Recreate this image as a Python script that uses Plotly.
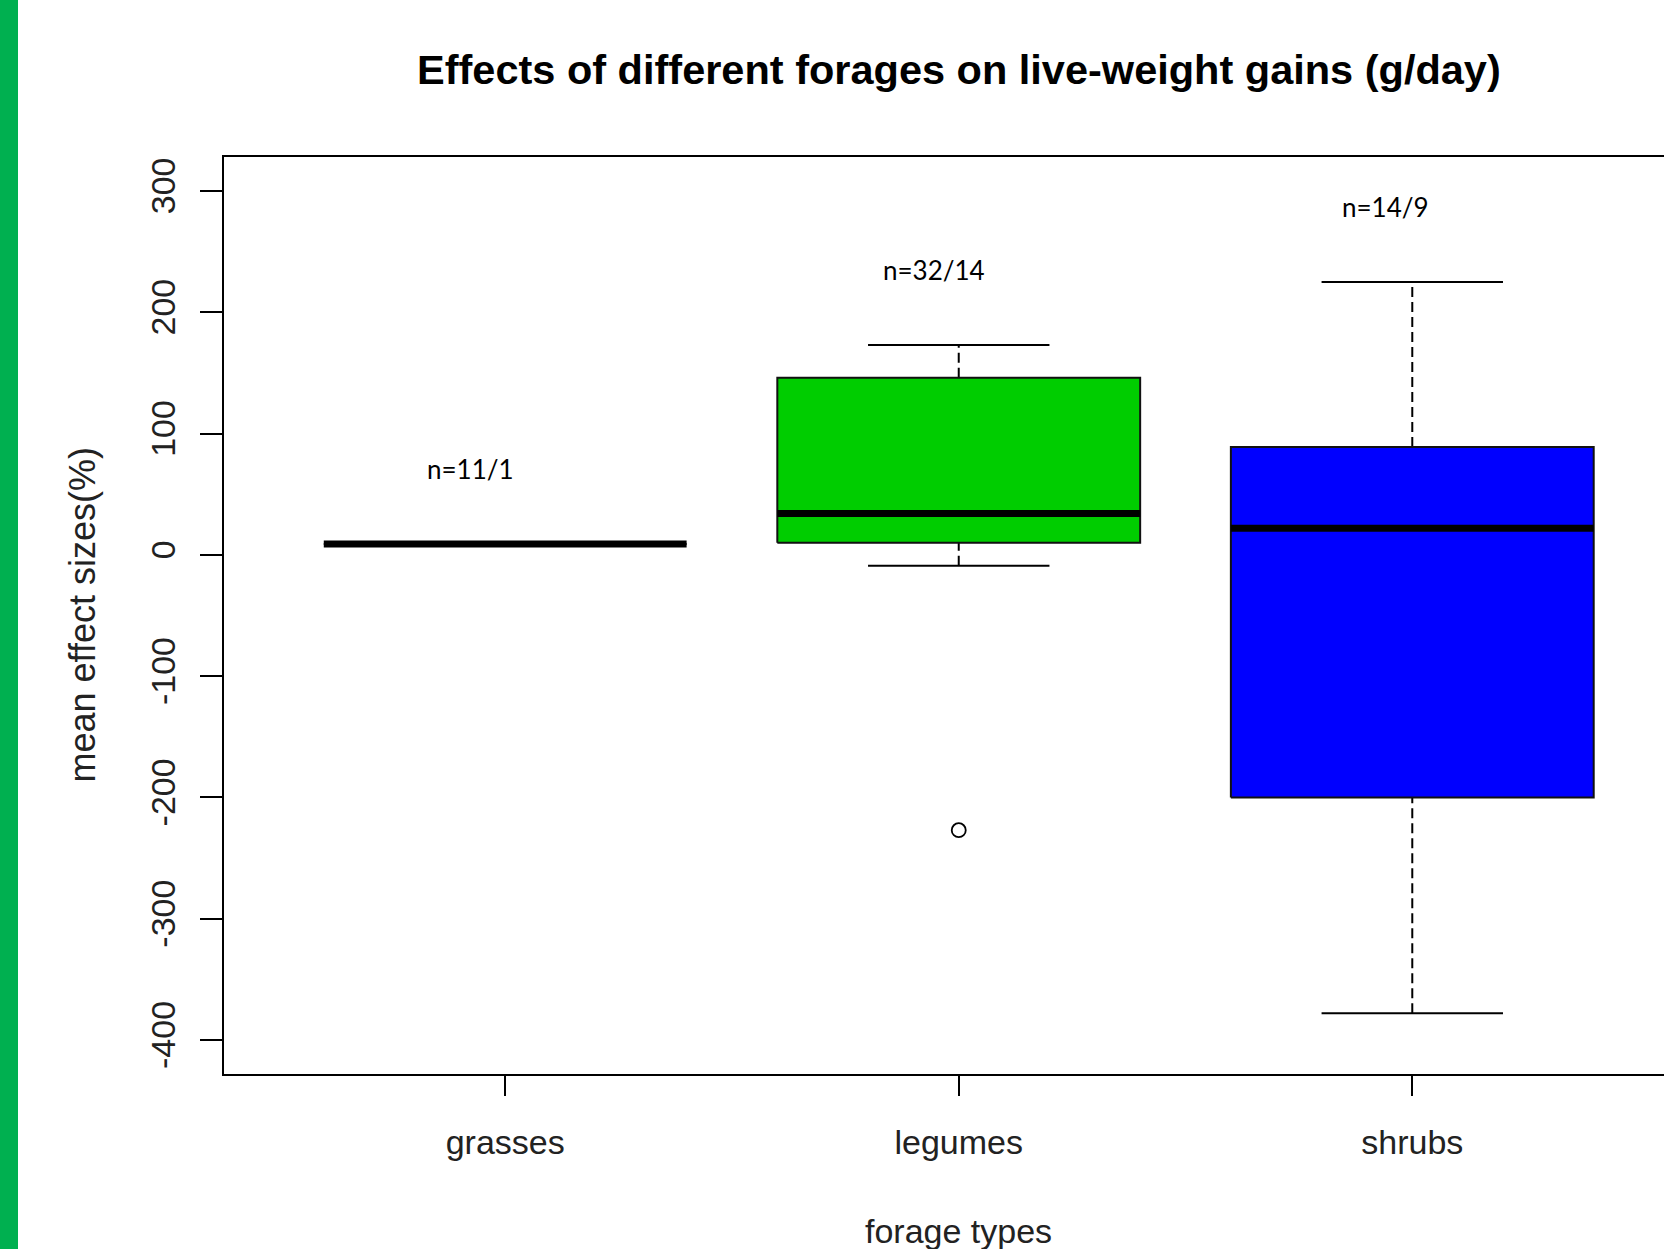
import plotly.graph_objects as go

# ---- data ----
categories = ["grasses", "legumes", "shrubs"]
lower_whisker = [9, -9, -378]
q1_values = [9, 10, -200]
median_values = [9, 34, 22]
q3_values = [9, 146, 89]
upper_whisker = [9, 173, 225]
outlier_category = ["legumes"]
outlier_values = [-227]
n_labels = ["n=11/1", "n=32/14", "n=14/9"]
y_tick_values = [-400, -300, -200, -100, 0, 100, 200, 300]
y_tick_labels = ["-400", "-300", "-200", "-100", "0", "100", "200", "300"]

# ---- styles ----
fill_colors = ["rgba(0,0,0,0)", "#00CD00", "#0000FF"]
box_half = 0.4
staple_half = 0.2
n_label_offsets = [(-0.077, 71), (-0.054, 235), (-0.06, 287)]

fig = go.Figure()
for i, cat in enumerate(categories):
    c = i + 1
    # whiskers (dashed)
    for a, b in ((q3_values[i], upper_whisker[i]), (lower_whisker[i], q1_values[i])):
        fig.add_trace(go.Scatter(x=[c, c], y=[a, b], mode="lines",
                                 line=dict(color="black", width=2, dash="10px,5px"),
                                 hoverinfo="skip", showlegend=False))
    # staples
    for v in (upper_whisker[i], lower_whisker[i]):
        fig.add_trace(go.Scatter(x=[c - staple_half, c + staple_half], y=[v, v], mode="lines",
                                 line=dict(color="black", width=2),
                                 hoverinfo="skip", showlegend=False))
    # box
    fig.add_trace(go.Scatter(
        x=[c - box_half, c + box_half, c + box_half, c - box_half, c - box_half],
        y=[q1_values[i], q1_values[i], q3_values[i], q3_values[i], q1_values[i]],
        mode="lines", fill="toself", fillcolor=fill_colors[i],
        line=dict(color="#111111", width=2), hoverinfo="skip", showlegend=False))
    # median
    fig.add_trace(go.Scatter(x=[c - box_half, c + box_half],
                             y=[median_values[i], median_values[i]], mode="lines",
                             line=dict(color="black", width=7),
                             hoverinfo="skip", showlegend=False))

# outliers
fig.add_trace(go.Scatter(
    x=[categories.index(oc) + 1 for oc in outlier_category], y=outlier_values,
    mode="markers",
    marker=dict(symbol="circle-open", size=14, color="black", line=dict(width=1.8)),
    hoverinfo="skip", showlegend=False))

annotations = []
for i, lab in enumerate(n_labels):
    dx, yy = n_label_offsets[i]
    annotations.append(dict(x=i + 1 + dx, y=yy, xref="x", yref="y", text=lab,
                            showarrow=False, font=dict(family="Lato", size=26, color="black")))

axis_font = dict(family="Liberation Sans, Arial", size=34, color="#222222")
annotations += [
    dict(x=2, y=1.0949, xref="x", yref="paper", text="<b>Effects of different forages on live-weight gains (g/day)</b>",
         showarrow=False, font=dict(family="Liberation Sans, Arial", size=41.5, color="black"),
         xanchor="center", yanchor="middle"),
    dict(x=2, y=-0.171, xref="x", yref="paper", text="forage types", showarrow=False,
         font=axis_font, xanchor="center", yanchor="middle"),
    dict(x=-0.0986, y=0.5, xref="paper", yref="paper", text="mean effect sizes(%)", showarrow=False,
         font=dict(family="Liberation Sans, Arial", size=36, color="#222222"),
         textangle=-90, xanchor="center", yanchor="middle"),
]

fig.update_layout(
    width=1664, height=1249, autosize=False,
    margin=dict(l=224, r=0, t=157, b=175),
    paper_bgcolor="white", plot_bgcolor="white",
    showlegend=False,
    annotations=annotations,
    shapes=[dict(type="rect", xref="paper", yref="paper",
                 x0=-224 / 1440, x1=(18 - 224) / 1440, y0=-0.2, y1=1.2,
                 fillcolor="#00B050", line=dict(width=0), layer="above")],
    xaxis=dict(range=[0.38, 3.555], tickvals=[1, 2, 3], ticktext=categories,
               showline=True, linecolor="black", linewidth=2, mirror=True,
               ticks="outside", ticklen=20, tickwidth=1.5, tickcolor="black",
               showgrid=False, zeroline=False, tickfont=axis_font, ticklabelstandoff=17),
    yaxis=dict(range=[-428, 328], tickvals=y_tick_values, ticktext=y_tick_labels, tickangle=-90,
               showline=True, linecolor="black", linewidth=2,
               ticks="outside", ticklen=22, tickwidth=1.5, tickcolor="black",
               showgrid=False, zeroline=False, tickfont=axis_font, ticklabelstandoff=11),
)

fig.write_html("out.html", config={"displayModeBar": False},
               post_script="document.body.style.margin='0px';document.body.style.overflow='hidden';")
